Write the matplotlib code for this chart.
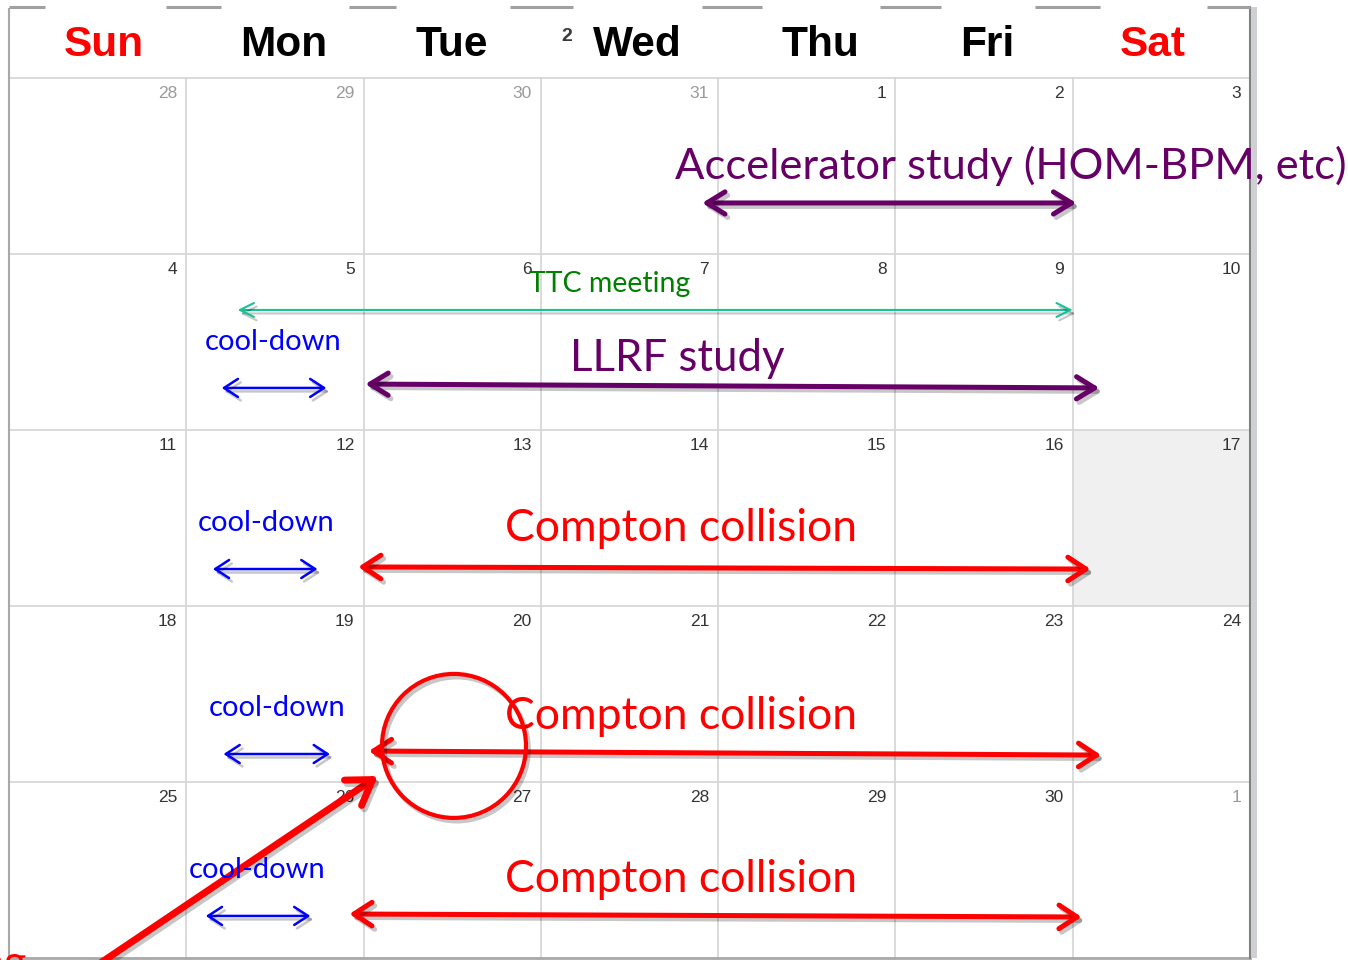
import matplotlib
matplotlib.use('Agg')
import matplotlib.pyplot as plt
import matplotlib.patheffects as pe
from matplotlib.patches import FancyArrowPatch, Ellipse, Rectangle
from matplotlib.patches import ArrowStyle

# ================== 数据 ==================
weekdays = ['Sun', 'Mon', 'Tue', 'Wed', 'Thu', 'Fri', 'Sat']
weekday_colors = ['#ff0000', 'black', 'black', 'black', 'black', 'black', '#ff0000']

weeks = [
    [28, 29, 30, 31, 1, 2, 3],
    [4, 5, 6, 7, 8, 9, 10],
    [11, 12, 13, 14, 15, 16, 17],
    [18, 19, 20, 21, 22, 23, 24],
    [25, 26, 27, 28, 29, 30, 1],
]
# cells belonging to another month (week, weekday)
other_month = [(0, 0), (0, 1), (0, 2), (0, 3), (4, 6)]
shaded_cell = (2, 6)

# events: start / end in weekday units (0 = Sunday left edge), y in week units
acc_label = 'Accelerator study (HOM-BPM, etc)'
acc_span = (3.91, 6.02)
acc_y = (0.71, 0.71)

ttc_label = 'TTC meeting'
ttc_span = (1.29, 6.00)
ttc_y = (1.318, 1.318)

llrf_label = 'LLRF study'
llrf_span = (2.01, 6.15)
llrf_y = (1.739, 1.761)

cool_label = 'cool-down'
cool_start = [1.20, 1.15, 1.21, 1.11]
cool_end = [1.79, 1.74, 1.81, 1.70]
cool_y = [1.761, 2.790, 3.841, 4.761]
cool_text_x = [1.49, 1.45, 1.51, 1.40]
cool_text_y = [1.50, 2.53, 3.58, 4.50]

compton_label = 'Compton collision'
compton_start = [1.97, 2.03, 1.92]
compton_end = [6.10, 6.16, 6.05]
compton_y0 = [2.778, 3.824, 4.750]
compton_y1 = [2.790, 3.847, 4.767]
compton_text_y = [2.56, 3.628, 4.555]

# ================== 画布 ==================
W, H = 1348, 960
x0_px, col_w = 9, (1250 - 9) / 7
y0_px, row_h = 78, (958 - 78) / 5

fig = plt.figure(figsize=(W / 100, H / 100), dpi=100)
ax = fig.add_axes([0, 0, 1, 1])
ax.set_xlim(-x0_px / col_w, (W - x0_px) / col_w)
ax.set_ylim((H - y0_px) / row_h, -y0_px / row_h)
ax.axis('off')

ANN_FONT = ['Lato', 'DejaVu Sans']
HEAD_FONT = ['Liberation Sans', 'DejaVu Sans']
grid_c = '#d4d4d4'
hdr_top = -(y0_px - 7) / row_h

# shaded cell
ax.add_patch(Rectangle((shaded_cell[1], shaded_cell[0]), 1, 1, facecolor='#f0f0f0',
                       edgecolor='none', zorder=0))

# grid
for c in range(1, 7):
    ax.plot([c, c], [0, 5], color=grid_c, lw=1.2, zorder=1)
for r in range(0, 5):
    ax.plot([0, 7], [r, r], color=grid_c, lw=1.2, zorder=1)
ax.plot([0, 7], [5, 5], color='#a8a8a8', lw=2, zorder=1)
ax.plot([0, 0], [hdr_top + 0.01, 5], color='#a8a8a8', lw=1.5, zorder=1)
ax.plot([7, 7], [hdr_top, 5], color='#808080', lw=1.5, zorder=1)
ax.add_patch(Rectangle((7.003, hdr_top), 6 / col_w, 5 - hdr_top, facecolor='#cfd0d4',
                       edgecolor='none', zorder=1))

# broken top border
top_segments = [(9, 45), (166, 221), (349, 396), (510, 573), (702, 762),
                (880, 941), (1035, 1100), (1207, 1250)]
for a, b in top_segments:
    ax.plot([(a - x0_px) / col_w, (b - x0_px) / col_w], [hdr_top, hdr_top],
            color='#a0a0a0', lw=2.2, solid_capstyle='butt', zorder=2)

# weekday header (slightly off-centre in the original screenshot)
header_px = [104, 284, 452, 637, 820, 987, 1153]
for name, col, px in zip(weekdays, weekday_colors, header_px):
    ax.text((px - x0_px) / col_w, -0.19, name, color=col, fontsize=30.5, fontweight='bold',
            family=HEAD_FONT, ha='center', va='center', zorder=3)
ax.text((567 - x0_px) / col_w, -0.235, '2', color='#3a3a3a', fontsize=14,
        fontweight='bold', family=HEAD_FONT, ha='center', va='center', zorder=3)

# date numbers
for r, week in enumerate(weeks):
    for c, d in enumerate(week):
        col = '#9a9a9a' if (r, c) in other_month else '#333333'
        ax.text(c + 1 - 9 / col_w, r + 16 / row_h, str(d), color=col, fontsize=12.5,
                family=HEAD_FONT, ha='right', va='center', zorder=3)

shadow = [pe.SimpleLineShadow(offset=(2, -2.5), shadow_color='k', alpha=0.22), pe.Normal()]


def arrow(xa, ya, xb, yb, color, lw, hl, hw, style='<->'):
    p = FancyArrowPatch((xa, ya), (xb, yb),
                        arrowstyle=ArrowStyle(style, head_length=hl, head_width=hw),
                        color=color, lw=lw, shrinkA=0, shrinkB=0, mutation_scale=1,
                        capstyle='round', joinstyle='round', zorder=5)
    p.set_path_effects(shadow)
    ax.add_patch(p)


# accelerator study
ax.text(5.65, 0.50, acc_label, color='#660066', fontsize=31.3, family=ANN_FONT,
        ha='center', va='center', zorder=6)
arrow(acc_span[0], acc_y[0], acc_span[1], acc_y[1], '#660066', 3.6, 13, 8)

# TTC meeting
ax.text(3.39, 1.17, ttc_label, color='#008000', fontsize=20.5, family=ANN_FONT,
        ha='center', va='center', zorder=6)
arrow(ttc_span[0], ttc_y[0], ttc_span[1], ttc_y[1], '#19c196', 1.5, 10, 5)

# LLRF study
ax.text(3.77, 1.595, llrf_label, color='#660066', fontsize=31.5, family=ANN_FONT,
        ha='center', va='center', zorder=6)
arrow(llrf_span[0], llrf_y[0], llrf_span[1], llrf_y[1], '#660066', 3.6, 13, 8)

# cool-down
for xa, xb, y, tx, ty in zip(cool_start, cool_end, cool_y, cool_text_x, cool_text_y):
    ax.text(tx, ty, cool_label, color='#0000ff', fontsize=21, family=ANN_FONT,
            ha='center', va='center', zorder=6)
    arrow(xa, y, xb, y, '#0000ff', 1.8, 10, 6.5)

# Compton collision
for xa, xb, ya, yb, ty in zip(compton_start, compton_end, compton_y0, compton_y1, compton_text_y):
    ax.text(3.79, ty, compton_label, color='#ff0000', fontsize=32, family=ANN_FONT,
            ha='center', va='center', zorder=6)
    arrow(xa, ya, xb, yb, '#ff0000', 3.6, 13, 8.5)

# highlight circle + pointer
circ = Ellipse((2.51, 3.795), 2 * 72 / col_w, 2 * 72 / row_h, facecolor='none',
               edgecolor='#ff0000', lw=3, zorder=7)
circ.set_path_effects(shadow)
ax.add_patch(circ)
arrow(0.513, 5.03, 2.081, 3.966, '#ff0000', 5, 17, 11, style='->')
ax.text(0.10, 5.10, 'ng', color='#ff0000', fontsize=31, family=ANN_FONT,
        ha='right', va='baseline', zorder=6)

plt.savefig('out.png', dpi=100, facecolor='white')
